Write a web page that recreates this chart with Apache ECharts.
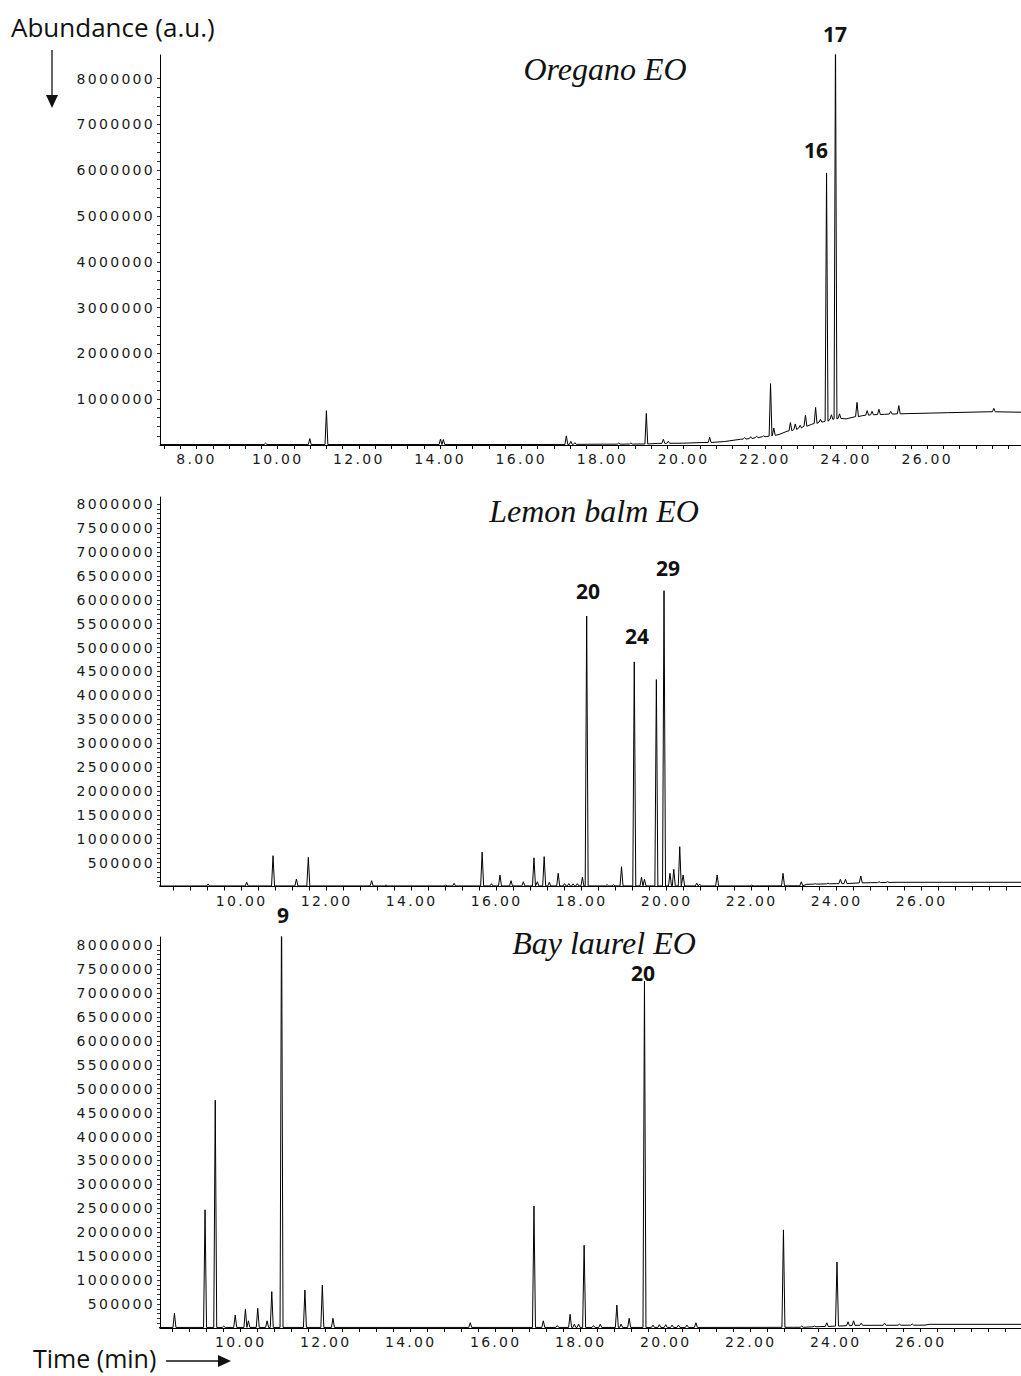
<!DOCTYPE html>
<html>
<head>
<meta charset="utf-8">
<script src="https://cdn.jsdelivr.net/npm/echarts@6/dist/echarts.min.js"></script>
<style>
  html, body { margin: 0; padding: 0; background: #fff; }
  #chart { width: 1021px; height: 1376px; }
  /* the tick labels in the scan are wide, spaced-out digits */
  #chart text[style*="DejaVu Sans"] { letter-spacing: 2.3px; }
</style>
</head>
<body>
<div id="chart"></div>
<script>
// retention time (min) tick labels
var xLabelsOregano = [8, 10, 12, 14, 16, 18, 20, 22, 24, 26];
var xLabelsOther = [10, 12, 14, 16, 18, 20, 22, 24, 26];
// abundance tick labels
var yLabelsOregano = [1000000, 2000000, 3000000, 4000000, 5000000, 6000000, 7000000, 8000000];
var yLabelsOther = [500000, 1000000, 1500000, 2000000, 2500000, 3000000, 3500000, 4000000,
    4500000, 5000000, 5500000, 6000000, 6500000, 7000000, 7500000, 8000000];

// baseline of each chromatogram: [time, abundance]
var oreganoBase = [
    [7.1, 10000], [17.0, 12000], [18.0, 18000], [19.0, 22000], [19.35, 35000], [20.0, 40000],
    [20.5, 55000], [21.0, 75000], [21.4, 125000], [22.05, 185000], [22.35, 230000], [22.55, 300000],
    [22.94, 400000], [23.15, 450000], [23.45, 510000], [24.0, 570000], [24.4, 640000], [24.95, 670000],
    [25.5, 685000], [26.5, 705000], [27.5, 725000], [28.35, 715000]
];
var lemonBase = [
    [8.0, 10000], [23.1, 15000], [23.3, 45000], [24.0, 60000], [24.8, 80000], [25.4, 88000], [28.4, 88000]
];
var laurelBase = [
    [8.0, 10000], [23.0, 15000], [23.65, 30000], [24.5, 56000], [26.1, 60000], [26.2, 77000], [28.4, 77000]
];

// peaks: [time, local baseline, apex abundance]
var oreganoPeaks = [
    [9.70, 10000, 40000], [10.79, 10000, 140000], [11.20, 10000, 750000], [14.01, 10000, 130000],
    [14.08, 10000, 120000], [17.11, 12000, 200000], [17.22, 14000, 80000], [17.32, 14000, 50000],
    [18.40, 18000, 45000], [18.70, 20000, 45000], [19.08, 22000, 690000], [19.50, 36000, 125000],
    [19.62, 37000, 80000], [20.64, 55000, 170000], [21.50, 130000, 160000], [21.65, 140000, 180000],
    [21.80, 160000, 190000], [21.97, 180000, 200000], [22.14, 195000, 1340000], [22.22, 210000, 370000],
    [22.63, 310000, 490000], [22.75, 340000, 460000], [22.87, 370000, 430000], [23.00, 410000, 650000],
    [23.25, 470000, 820000], [23.37, 500000, 560000], [23.52, 520000, 5940000], [23.64, 560000, 660000],
    [23.74, 570000, 9000000], [23.84, 580000, 680000], [24.27, 620000, 930000], [24.52, 650000, 750000],
    [24.64, 660000, 735000], [24.81, 665000, 780000], [25.10, 675000, 735000], [25.30, 680000, 860000],
    [27.64, 725000, 800000]
];
var lemonPeaks = [
    [9.21, 12000, 52000], [10.12, 12000, 88000], [10.74, 12000, 645000], [11.29, 12000, 157000],
    [11.57, 12000, 610000], [13.06, 12000, 121000], [13.40, 12000, 30000], [14.80, 12000, 30000],
    [15.00, 12000, 67000], [15.66, 12000, 720000], [15.88, 12000, 60000], [16.08, 12000, 240000],
    [16.34, 12000, 121000], [16.63, 12000, 100000], [16.88, 12000, 600000], [16.96, 12000, 100000],
    [17.12, 12000, 625000], [17.24, 12000, 88000], [17.45, 12000, 276000], [17.60, 12000, 60000],
    [17.70, 12000, 60000], [17.80, 12000, 55000], [17.90, 12000, 60000], [18.02, 12000, 192000],
    [18.12, 12000, 5660000], [18.60, 12000, 40000], [18.75, 12000, 40000], [18.94, 12000, 414000],
    [19.24, 12000, 4700000], [19.41, 12000, 192000], [19.48, 12000, 150000], [19.76, 12000, 4330000],
    [19.94, 12000, 6190000], [20.08, 12000, 276000], [20.17, 12000, 360000], [20.31, 12000, 833000],
    [20.39, 12000, 240000], [20.71, 12000, 70000], [20.78, 12000, 50000], [21.19, 12000, 240000],
    [22.00, 12000, 30000], [22.74, 14000, 276000], [23.17, 15000, 100000], [23.50, 50000, 60000],
    [23.80, 55000, 70000], [24.09, 60000, 150000], [24.21, 62000, 150000], [24.57, 75000, 220000],
    [25.00, 82000, 100000], [25.20, 85000, 100000]
];
var laurelPeaks = [
    [8.44, 12000, 307000], [9.16, 12000, 2470000], [9.40, 12000, 4760000], [9.60, 12000, 40000],
    [9.87, 12000, 272000], [10.11, 12000, 390000], [10.18, 12000, 150000], [10.40, 12000, 411000],
    [10.62, 12000, 150000], [10.73, 12000, 760000], [10.96, 12000, 9000000], [11.51, 12000, 794000],
    [11.92, 12000, 898000], [12.17, 12000, 203000], [15.40, 12000, 110000], [16.90, 12000, 2550000],
    [17.12, 12000, 150000], [17.45, 12000, 50000], [17.75, 12000, 286000], [17.85, 12000, 80000],
    [17.95, 12000, 80000], [18.08, 12000, 1730000], [18.30, 12000, 50000], [18.46, 12000, 80000],
    [18.85, 12000, 480000], [18.95, 12000, 80000], [19.14, 12000, 203000], [19.50, 12000, 7250000],
    [19.70, 12000, 60000], [19.85, 12000, 70000], [20.00, 12000, 70000], [20.15, 12000, 60000],
    [20.30, 12000, 60000], [20.50, 12000, 60000], [20.71, 12000, 110000], [22.77, 14000, 2050000],
    [23.20, 15000, 40000], [23.50, 25000, 40000], [23.79, 32000, 110000], [24.03, 40000, 1380000],
    [24.29, 48000, 130000], [24.42, 52000, 150000], [24.60, 56000, 100000], [25.15, 57000, 100000],
    [25.50, 58000, 80000], [25.80, 59000, 85000]
];

// each peak becomes a narrow spike on top of its baseline
function buildTrace(base, peaks, w) {
    var pts = base.slice();
    peaks.forEach(function (p) {
        pts.push([p[0] - w, p[1]], [p[0], p[2]], [p[0] + w, p[1]]);
    });
    pts.sort(function (a, b) { return a[0] - b[0]; });
    return pts;
}

function steps(from, to, step) {
    var out = [];
    for (var i = 0; from + i * step <= to + 1e-9; i++) {
        out.push(Math.round((from + i * step) * 100) / 100);
    }
    return out;
}

var tickFont = { fontFamily: 'DejaVu Sans', fontSize: 14, color: '#1a1a1a' };

function makeXAxis(idx, min, max, labels, firstTick) {
    return {
        type: 'value', gridIndex: idx, min: min, max: max,
        axisLine: { show: true, onZero: false, lineStyle: { color: '#000', width: 1 } },
        axisTick: { show: true, length: 4, customValues: steps(firstTick, max, 0.4), lineStyle: { color: '#000' } },
        axisLabel: Object.assign({
            margin: 7, customValues: labels,
            formatter: function (v) { return v.toFixed(2); }
        }, tickFont),
        splitLine: { show: false }
    };
}

function makeYAxis(idx, max, labels, minor) {
    return {
        type: 'value', gridIndex: idx, min: 0, max: max,
        axisLine: { show: true, onZero: false, lineStyle: { color: '#000', width: 1 } },
        axisTick: { show: true, length: 3, customValues: steps(minor, 8000000, minor), lineStyle: { color: '#333' } },
        axisLabel: Object.assign({
            margin: 5, customValues: labels,
            formatter: function (v) { return String(v); }
        }, tickFont),
        splitLine: { show: false }
    };
}

function makeSeries(idx, data) {
    return {
        type: 'line', xAxisIndex: idx, yAxisIndex: idx, data: data,
        showSymbol: false, clip: true, animation: false,
        lineStyle: { color: '#000', width: 1 }
    };
}

function titleText(text, x, y) {
    return {
        type: 'text', x: x, y: y,
        style: { text: text, fill: '#111', font: 'italic 32px "Liberation Serif"', lineHeight: 30, align: 'center', verticalAlign: 'middle' }
    };
}

function peakText(text, x, y) {
    return {
        type: 'text', x: x, y: y,
        style: { text: text, fill: '#111', font: 'bold 21px "Open Sans"', lineHeight: 21, align: 'center', verticalAlign: 'middle' }
    };
}

var option = {
    animation: false,
    grid: [
        { left: 160, top: 55, width: 861, height: 390 },
        { left: 160, top: 497, width: 861, height: 389.5 },
        { left: 160, top: 937, width: 861, height: 391 }
    ],
    xAxis: [
        makeXAxis(0, 7.1, 28.31, xLabelsOregano, 7.2),
        makeXAxis(1, 8.08, 28.34, xLabelsOther, 8.4),
        makeXAxis(2, 8.1, 28.36, xLabelsOther, 8.4)
    ],
    yAxis: [
        makeYAxis(0, 8515000, yLabelsOregano, 200000),
        makeYAxis(1, 8150000, yLabelsOther, 100000),
        makeYAxis(2, 8170000, yLabelsOther, 100000)
    ],
    series: [
        makeSeries(0, buildTrace(oreganoBase, oreganoPeaks, 0.035)),
        makeSeries(1, buildTrace(lemonBase, lemonPeaks, 0.035)),
        makeSeries(2, buildTrace(laurelBase, laurelPeaks, 0.035))
    ],
    graphic: [
        { type: 'text', x: 11, y: 27, style: { text: 'Abundance (a.u.)', fill: '#111', font: '26px "Open Sans"', lineHeight: 28, verticalAlign: 'middle' } },
        { type: 'line', shape: { x1: 52, y1: 50, x2: 52, y2: 97 }, style: { stroke: '#111', lineWidth: 1.3 } },
        { type: 'polygon', shape: { points: [[46, 95], [58, 95], [52, 108]] }, style: { fill: '#111' } },
        { type: 'text', x: 33, y: 1358, style: { text: 'Time (min)', fill: '#111', font: '25px "Open Sans"', lineHeight: 26, verticalAlign: 'middle' } },
        { type: 'line', shape: { x1: 166, y1: 1361, x2: 220, y2: 1361 }, style: { stroke: '#111', lineWidth: 1.3 } },
        { type: 'polygon', shape: { points: [[218, 1355], [218, 1367], [231, 1361]] }, style: { fill: '#111' } },
        titleText('Oregano EO', 605, 69),
        titleText('Lemon balm EO', 594, 511),
        titleText('Bay laurel EO', 604, 943),
        peakText('17', 835, 34),
        peakText('16', 816, 150),
        peakText('20', 588, 591),
        peakText('24', 637, 636),
        peakText('29', 668, 568),
        peakText('9', 283, 915),
        peakText('20', 643, 973)
    ]
};

var myChart = echarts.init(document.getElementById('chart'), null, { renderer: 'svg' });
myChart.setOption(option);
</script>
</body>
</html>
